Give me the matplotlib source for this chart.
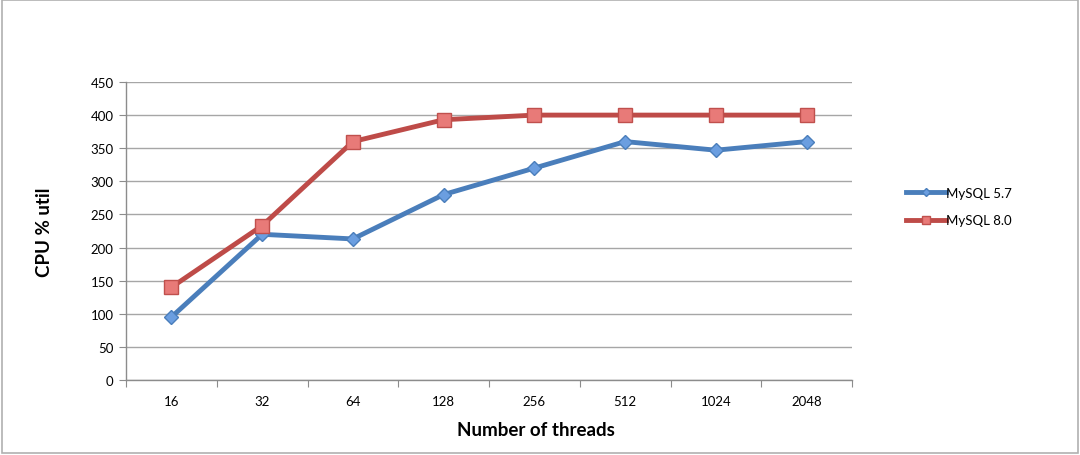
import matplotlib
matplotlib.use("Agg")
import matplotlib.pyplot as plt
from matplotlib.patches import Rectangle

plt.rcParams['font.family'] = ['Lato', 'DejaVu Sans']

threads = ["16", "32", "64", "128", "256", "512", "1024", "2048"]
mysql57 = [95, 220, 213, 280, 320, 360, 347, 360]
mysql80 = [140, 233, 360, 393, 400, 400, 400, 400]
yticks = [0, 50, 100, 150, 200, 250, 300, 350, 400, 450]

fig = plt.figure(figsize=(10.8, 4.56), dpi=100)
fig.patches.append(Rectangle((0.002, 0.004), 0.996, 0.993, transform=fig.transFigure,
                             fill=False, edgecolor='#b0b0b0', linewidth=1.2))
ax = fig.add_axes([0.1167, 0.1645, 0.6722, 0.6535])

x = list(range(len(threads)))
ax.plot(x, mysql57, color='#4a7ebb', linewidth=3.5, marker='D', markersize=7,
        markerfacecolor='#6b9ee0', markeredgecolor='#4a7ebb', markeredgewidth=1,
        label='MySQL 5.7', zorder=3)
ax.plot(x, mysql80, color='#be4b48', linewidth=3.5, marker='s', markersize=10,
        markerfacecolor='#e87a78', markeredgecolor='#c0504d', markeredgewidth=1,
        label='MySQL 8.0', zorder=3)

ax.set_xlim(-0.5, len(threads) - 0.5)
ax.set_ylim(0, 450)
ax.set_yticks(yticks)
ax.set_yticklabels([str(v) for v in yticks], fontsize=9.5)
ax.yaxis.grid(True, color='#a6a6a6', linewidth=1)
ax.set_axisbelow(True)

ax.set_xticks([i + 0.5 for i in range(-1, len(threads))])
ax.set_xticklabels([])
ax.set_xticks(x, minor=True)
ax.set_xticklabels(threads, minor=True, fontsize=9.5)
ax.tick_params(axis='x', which='minor', length=0, pad=11)
ax.tick_params(axis='x', which='major', length=5, color='#8c8c8c', direction='out')
ax.tick_params(axis='y', length=5, color='#8c8c8c', direction='out', pad=4)

for s in ['top', 'right']:
    ax.spines[s].set_visible(False)
for s in ['left', 'bottom']:
    ax.spines[s].set_color('#8c8c8c')
    ax.spines[s].set_linewidth(1)

ax.set_xlabel('Number of threads', fontsize=13.5, fontweight='bold', labelpad=10)
ax.xaxis.label.set_x(0.565)
ax.set_ylabel('CPU % util', fontsize=13.5, fontweight='bold', labelpad=27)

leg = fig.legend(loc='center left', bbox_to_anchor=(0.833, 0.545), frameon=False,
                 fontsize=9.5, handlelength=3, handletextpad=0.0, labelspacing=1.2,
                 borderpad=0, markerscale=0.6)

fig.savefig('out.png', dpi=100)
